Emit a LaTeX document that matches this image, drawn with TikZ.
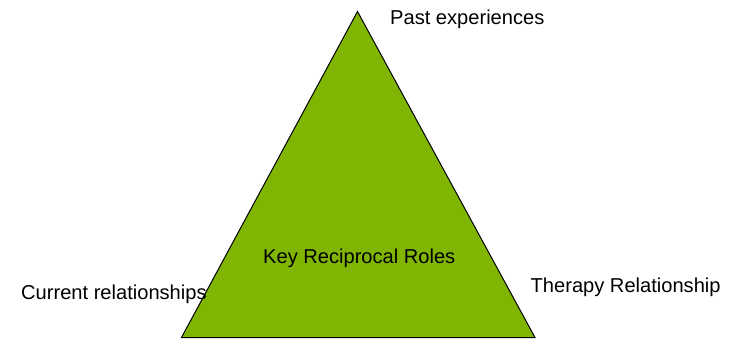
\documentclass[tikz,border=0pt]{standalone}
\usepackage{fontspec}
\setmainfont{Liberation Sans}
\definecolor{trigreen}{RGB}{128,181,4}
\begin{document}
\begin{tikzpicture}[x=1pt,y=-1pt,
  lbl/.style={anchor=base west,inner sep=0pt,font=\fontsize{20.1}{24}\selectfont,text=black}]
\useasboundingbox (0,0) rectangle (734,339);
\coordinate (apex) at (357.5,11.5);
\coordinate (bl) at (181.5,337.5);
\coordinate (br) at (535,337.5);
\filldraw[fill=trigreen,draw=black,line width=1pt,line join=miter] (apex) -- (br) -- (bl) -- cycle;
\node[lbl] (past) at (390,25) {Past experiences};
\node[lbl] (curr) at (21,299) {Current relationships};
\node[lbl] (ther) at (530.5,293) {Therapy Relationship};
\node[lbl] (key) at (263,264) {Key Reciprocal Roles};
\end{tikzpicture}
\end{document}
